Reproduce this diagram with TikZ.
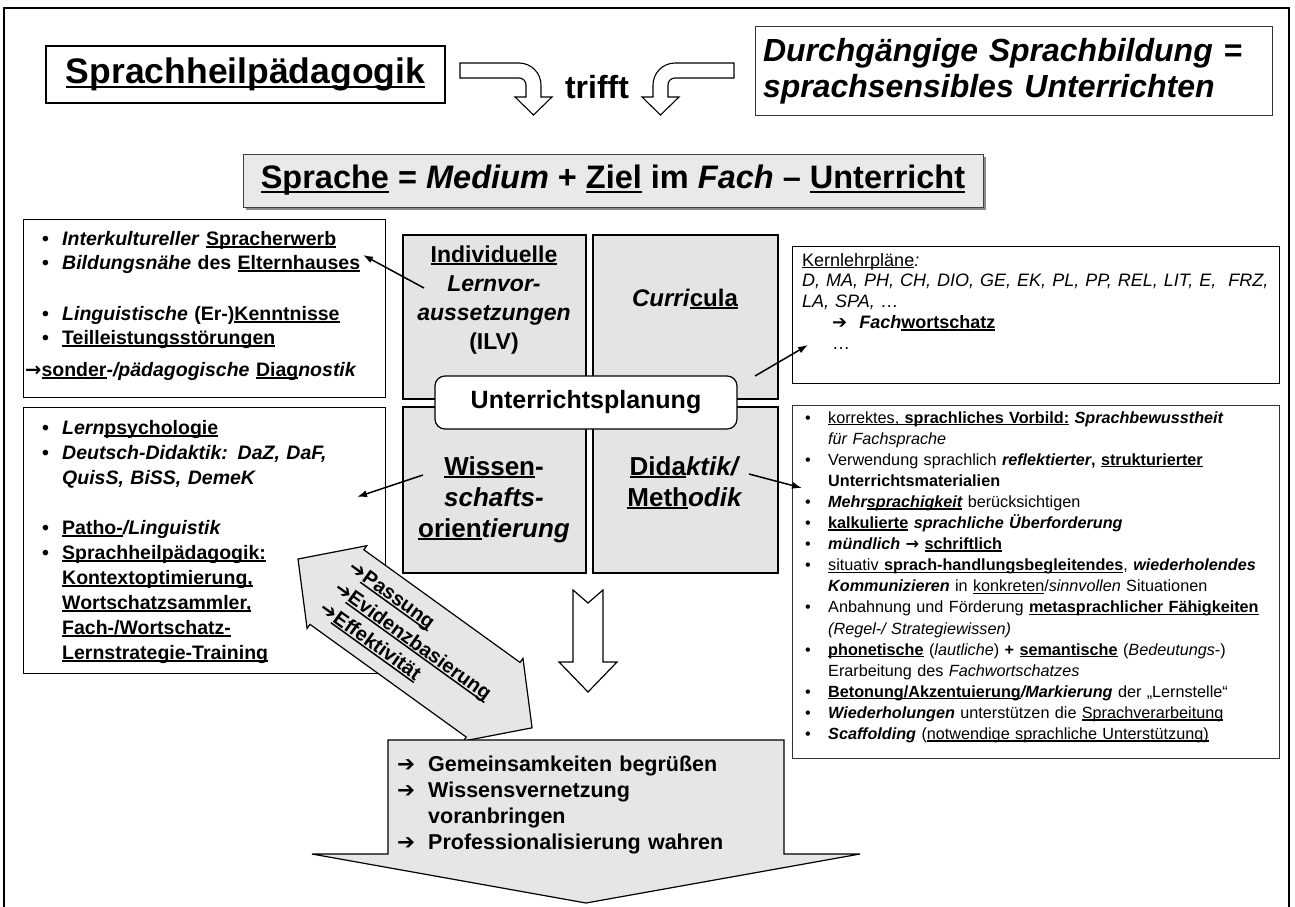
\documentclass[tikz,border=0pt]{standalone}
\usepackage{fontspec}
\setmainfont{Liberation Sans}
\newfontfamily\symfont{DejaVu Sans}
\usetikzlibrary{arrows.meta}
\definecolor{panel}{HTML}{E4E4E4}
\definecolor{shade}{HTML}{E6E6E6}
\definecolor{titlefill}{HTML}{E9E9E9}

% underline at a fixed depth below the baseline
\newcommand\ul[1]{\leavevmode\setbox0=\hbox{#1}\rlap{\rule[-0.13em]{\wd0}{0.075em}}\box0\relax}
\newcommand\lb{\hspace*{17pt}\makebox[20pt][l]{•}}
\newcommand\li{\hspace*{37pt}}
\newcommand\rb{\makebox[23pt][l]{•}}
\newcommand\ri{\hspace*{23pt}}
\newcommand\arr{{\symfont\bfseries ➔}}

\begin{document}
\begin{tikzpicture}[x=1pt,y=-1pt,
  outline/.style={draw=black, line width=1.2pt, inner sep=0, anchor=north west},
  quad/.style={draw=black, fill=panel, line width=1.5pt, inner sep=0, anchor=north west,
    minimum width=183pt, minimum height=164pt},
  qtext/.style={anchor=base, align=center, text width=180pt, inner sep=0},
  listtext/.style={anchor=base west, align=left, text width=#1, inner sep=0},
  conn/.style={line width=1.5pt, -{Latex[length=10pt,width=7pt]}},
  hollow/.style={draw=black, fill=white, line width=1.1pt, line join=miter},
  bigarrow/.style={draw=black, fill=shade, line width=1.2pt, line join=miter}
]
\useasboundingbox (0,0) rectangle (1295,907);
\fill[white] (0,0) rectangle (1295,907);
\draw[line width=1.6pt] (4,915) -- (4,8) -- (1289,8) -- (1289,915);

% ---------- top row ----------
\node[draw=black, line width=1.2pt, minimum width=399pt, minimum height=57pt, inner sep=0,
  font=\fontsize{35.5}{40}\selectfont\bfseries] (sh) at (245.5,74.5) {\ul{Sprachheilpädagogik}};

\draw[hollow] (460,63) -- (519,63) .. controls (531.1,63) and (541,72.9) .. (541,85)
  -- (541,97) -- (552,97) -- (533.5,115) -- (515,97) -- (526,97) -- (526,85)
  .. controls (526,81.1) and (522.9,78) .. (519,78) -- (460,78) -- cycle;
\draw[hollow] (734,63) -- (675,63) .. controls (662.9,63) and (653,72.9) .. (653,85)
  -- (653,97) -- (642,97) -- (660.5,115) -- (679,97) -- (668,97) -- (668,85)
  .. controls (668,81.1) and (671.1,78) .. (675,78) -- (734,78) -- cycle;
\node[font=\fontsize{32}{36}\selectfont\bfseries, anchor=base, inner sep=0] (trifft) at (597,98) {trifft};

\node[draw=black!80, line width=1pt, minimum width=517pt, minimum height=88pt, inner sep=0,
  align=left, text width=501pt, font=\fontsize{32}{36}\selectfont\bfseries\itshape] (dsb) at (1013.5,71)
  {Durchgängige Sprachbildung =\\sprachsensibles Unterrichten};

% ---------- title ----------
\fill[black!45] (246,157) rectangle (986,210);
\node[draw=black!75, fill=titlefill, line width=1pt, minimum width=740pt, minimum height=53pt, inner sep=0,
  font=\fontsize{32.5}{36}\selectfont\bfseries] (title) at (613,180.5)
  {\ul{Sprache} = \textit{Medium} + \ul{Ziel} im \textit{Fach} -- \ul{Unterricht}};

% ---------- four planning fields ----------
\node[quad] (ilv) at (402,234) {};
\node[quad, minimum width=185pt] (cur) at (592,234) {};
\node[quad, minimum height=166pt] (wis) at (402,406) {};
\node[quad, minimum width=185pt, minimum height=166pt] (did) at (592,406) {};

\node[qtext, font=\fontsize{23}{29}\selectfont\bfseries] (ilvT) at (494,262)
  {\ul{Individuelle}\\\textit{Lernvor-}\\\textit{aussetzungen}\\(ILV)};
\node[qtext, font=\fontsize{24}{29}\selectfont\bfseries] (curT) at (685,306)
  {\textit{Curri}\ul{cula}};
\node[qtext, font=\fontsize{26}{31}\selectfont\bfseries] (wisT) at (494,475)
  {\ul{Wissen}-\\\textit{schafts-}\\\ul{orien}\textit{tierung}};
\node[qtext, font=\fontsize{26}{31}\selectfont\bfseries] (didT) at (685,475)
  {\ul{Dida}\textit{ktik/}\\\ul{Meth}\textit{odik}};

\node[draw=black, fill=white, line width=1.2pt, rounded corners=10pt, minimum width=302pt,
  minimum height=53pt, inner sep=0, font=\fontsize{25}{29}\selectfont\bfseries] (plan) at (586,402.5)
  {Unterrichtsplanung};

% ---------- left boxes ----------
\node[outline, minimum width=362pt, minimum height=178pt] (ltbox) at (23,219) {};
\node[listtext=355pt, font=\fontsize{19.5}{24}\selectfont\bfseries] (ltT) at (25,245)
  {\lb\textit{Interkultureller} \ul{Spracherwerb}\\
   \lb\textit{Bildungsnähe} des \ul{Elternhauses}\\[27pt]
   \lb\textit{Linguistische} (Er-)\ul{Kenntnisse}\\
   \lb\ul{Teilleistungsstörungen}\\[8pt]
   {\symfont→}\ul{sonder}\textit{-/pädagogische} \ul{Diag}\textit{nostik}};

\node[outline, minimum width=362pt, minimum height=266pt] (lmbox) at (23,407) {};
\node[listtext=355pt, font=\fontsize{19.5}{25}\selectfont\bfseries] (lmT) at (25,434)
  {\lb\textit{Lern}\ul{psychologie}\\
   \lb\textit{Deutsch-Didaktik: DaZ, DaF,}\\
   \li\textit{QuisS, BiSS, DemeK}\\[25pt]
   \lb\ul{Patho-}\textit{/Linguistik}\\
   \lb\ul{Sprachheilpädagogik:}\\
   \li\ul{Kontextoptimierung,}\\
   \li\ul{Wortschatzsammler,}\\
   \li\ul{Fach-/Wortschatz-}\\
   \li\ul{Lernstrategie-Training}};

% ---------- right boxes ----------
\node[outline, minimum width=487pt, minimum height=137pt] (klbox) at (792,246) {};
\node[listtext=470pt, font=\fontsize{18}{20.8}\selectfont] (klT) at (802,266)
  {\ul{Kernlehrpläne}\textit{:}\\
   \textit{D, MA, PH, CH, DIO, GE, EK, PL, PP, REL, LIT, E,\ \ FRZ,}\\
   \textit{LA, SPA, …}\\
   \hspace*{30pt}\arr\hspace{12pt}\textbf{\textit{Fach}\ul{wortschatz}}\\
   \hspace*{30pt}…};

\node[outline, draw=black!80, minimum width=487pt, minimum height=353pt] (mbox) at (792,405) {};
\node[listtext=470pt, font=\fontsize{16.2}{21.1}\selectfont] (mT) at (805,423)
  {\rb\ul{korrektes, \textbf{sprachliches Vorbild:}} \textbf{\textit{Sprachbewusstheit}}\\
   \ri\textit{für Fachsprache}\\
   \rb Verwendung sprachlich \textbf{\textit{reflektierter}, \ul{strukturierter}}\\
   \ri\textbf{Unterrichtsmaterialien}\\
   \rb\textbf{\textit{Mehr\ul{sprachigkeit}}} berücksichtigen\\
   \rb\textbf{\ul{kalkulierte} \textit{sprachliche Überforderung}}\\
   \rb\textbf{\textit{mündlich} {\symfont→} \ul{schriftlich}}\\
   \rb\ul{situativ \textbf{sprach-handlungsbegleitendes}}, \textbf{\textit{wiederholendes}}\\
   \ri\textbf{\textit{Kommunizieren}} in \ul{konkreten}/\textit{sinnvollen} Situationen\\
   \rb Anbahnung und Förderung \textbf{\ul{metasprachlicher Fähigkeiten}}\\
   \ri\textit{(Regel-/ Strategiewissen)}\\
   \rb\textbf{\ul{phonetische}} (\textit{lautliche}) \textbf{+} \textbf{\ul{semantische}} (\textit{Bedeutungs}-)\\
   \ri Erarbeitung des \textit{Fachwortschatzes}\\
   \rb\textbf{\ul{Betonung/Akzentuierung}\textit{/Markierung}} der „Lernstelle“\\
   \rb\textbf{\textit{Wiederholungen}} unterstützen die \ul{Sprachverarbeitung}\\
   \rb\textbf{\textit{Scaffolding}} (\ul{notwendige sprachliche Unterstützung)}};

% ---------- connectors ----------
\coordinate (ilvOut) at (424,288);
\coordinate (ltIn) at (363,255);
\coordinate (curOut) at (755,376);
\coordinate (klIn) at (808,345);
\coordinate (wisOut) at (423,475);
\coordinate (lmIn) at (357,497);
\coordinate (didOut) at (749,474);
\coordinate (mIn) at (802,488);
\draw[conn] (ilvOut) -- (ltIn);
\draw[conn] (curOut) -- (klIn);
\draw[conn] (wisOut) -- (lmIn);
\draw[conn] (didOut) -- (mIn);

% ---------- double arrow ----------
\begin{scope}[shift={(298,559)}, rotate=-35.8]
  \draw[bigarrow] (0,0) -- (48,-51) -- (48,-46) -- (240.6,-46) -- (240.6,-51) -- (288.6,0)
    -- (240.6,51) -- (240.6,46) -- (48,46) -- (48,51) -- cycle;
  \node[transform shape, anchor=west, align=left, inner sep=0,
    font=\fontsize{20}{25}\selectfont\bfseries] (crit) at (47,0)
    {\arr\ul{Passung}\\\arr\ul{Evidenzbasierung}\\\arr\ul{Effektivität}};
\end{scope}

% ---------- down arrow and result ----------
\draw[hollow, line width=1.2pt] (573,590) -- (588,603) -- (603,590) -- (603,662) -- (617,662)
  -- (588,692) -- (559,662) -- (573,662) -- cycle;

\draw[bigarrow] (388,740) -- (784,740) -- (784,854) -- (860,854) -- (586,903)
  -- (312,854) -- (388,854) -- cycle;
\node[listtext=380pt, font=\fontsize{21.5}{26}\selectfont\bfseries] (res) at (397,771)
  {\makebox[31pt][l]{\arr}Gemeinsamkeiten begrüßen\\
   \makebox[31pt][l]{\arr}Wissensvernetzung\\
   \hspace*{31pt}voranbringen\\
   \makebox[31pt][l]{\arr}Professionalisierung wahren};
\end{tikzpicture}
\end{document}
